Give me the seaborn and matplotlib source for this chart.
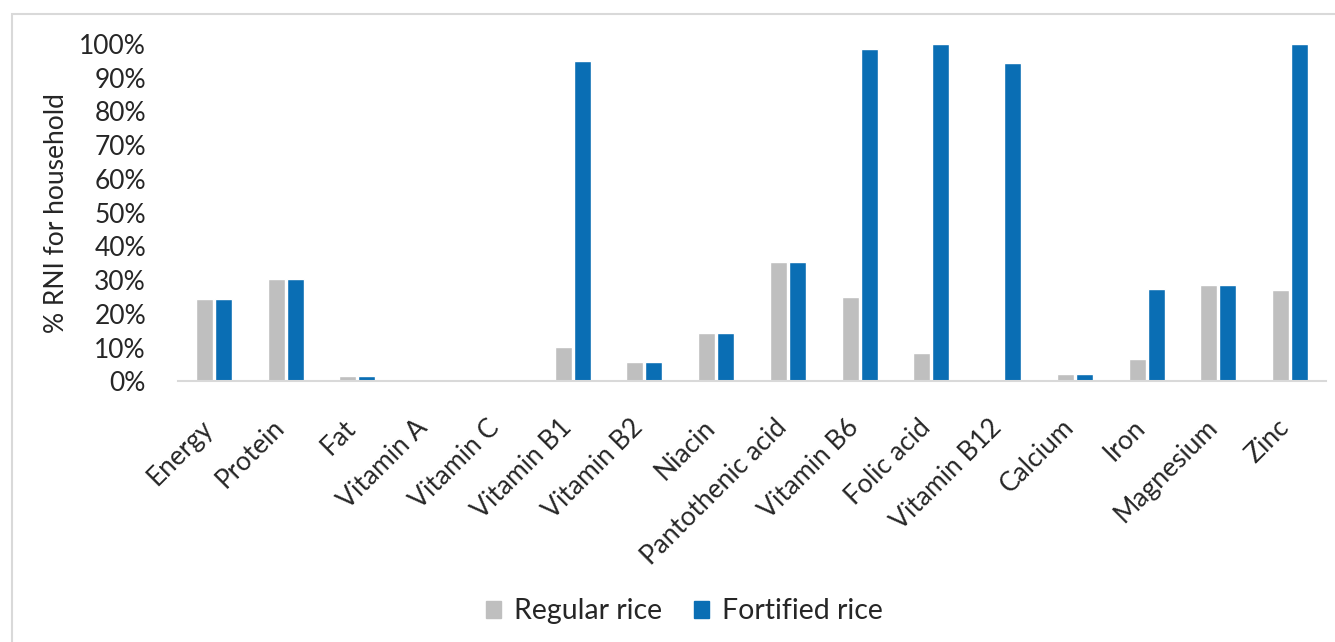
import numpy as np
import pandas as pd
import matplotlib.pyplot as plt
import matplotlib.patches as mpatches
import matplotlib.transforms as mtransforms
import seaborn as sns

nutrients = ["Energy", "Protein", "Fat", "Vitamin A", "Vitamin C", "Vitamin B1",
             "Vitamin B2", "Niacin", "Pantothenic acid", "Vitamin B6", "Folic acid",
             "Vitamin B12", "Calcium", "Iron", "Magnesium", "Zinc"]
regular = [0.244, 0.304, 0.016, 0.0, 0.0, 0.101, 0.059, 0.143, 0.355, 0.251,
           0.084, 0.0, 0.021, 0.067, 0.287, 0.270]
fortified = [0.244, 0.304, 0.016, 0.0, 0.0, 0.950, 0.059, 0.143, 0.355, 0.984,
             1.0, 0.943, 0.021, 0.274, 0.287, 1.0]
series = ["Regular rice", "Fortified rice"]
colors = {"Regular rice": "#BFBFBF", "Fortified rice": "#0A6EB4"}

df = pd.DataFrame({"nutrient": nutrients * 2,
                   "value": regular + fortified,
                   "rice": [series[0]] * len(nutrients) + [series[1]] * len(nutrients)})

sns.set_theme(style="white")
plt.rcParams["font.family"] = ["Lato", "DejaVu Sans"]
FS = 19
TXT = "#262626"

fig = plt.figure(figsize=(13.35, 6.42), dpi=100)
ax = fig.add_axes([0.1333, 0.4058, 0.86, 0.5257])

sns.barplot(data=df, x="nutrient", y="value", hue="rice", palette=colors,
            saturation=1, width=0.53, gap=0.1, ax=ax, legend=False)

ax.set_ylim(0, 1.0)
ax.set_xlim(-0.5, len(nutrients) - 0.5)
ticks = np.arange(0, 1.01, 0.1)
ax.set_yticks(ticks)
ax.set_yticklabels([f"{int(round(t * 100))}%" for t in ticks], fontsize=FS, color=TXT)
ax.tick_params(axis="y", length=0, pad=23)
ax.tick_params(axis="x", length=0, pad=24)
# shift the rotated category labels so they end under the bar groups
nudge = mtransforms.ScaledTranslation(-14 / 100, 0, fig.dpi_scale_trans)
for lab in ax.get_xticklabels():
    lab.set_rotation(45)
    lab.set_ha("right")
    lab.set_va("top")
    lab.set_rotation_mode("anchor")
    lab.set_fontsize(FS)
    lab.set_color(TXT)
    lab.set_transform(lab.get_transform() + nudge)
ax.set_xlabel("")
ax.set_ylabel("% RNI for household", fontsize=FS, color=TXT, labelpad=7)

for s in ["top", "right", "left"]:
    ax.spines[s].set_visible(False)
ax.spines["bottom"].set_color("#D9D9D9")
ax.spines["bottom"].set_linewidth(1.5)

handles = [mpatches.Patch(color=colors[s], label=s) for s in series]
fig.legend(handles=handles, loc="center", bbox_to_anchor=(0.5127, 0.048), ncol=2,
           frameon=False, fontsize=20.5, handlelength=0.55, handleheight=0.55,
           handletextpad=0.45, columnspacing=1.1, labelcolor=TXT)

# chart area border
fig.patches.append(mpatches.Rectangle((0.009, -0.05), 1.2, 1.028, transform=fig.transFigure,
                                      fill=False, edgecolor="#D9D9D9", linewidth=1.5))

fig.savefig("out.png", dpi=100)
